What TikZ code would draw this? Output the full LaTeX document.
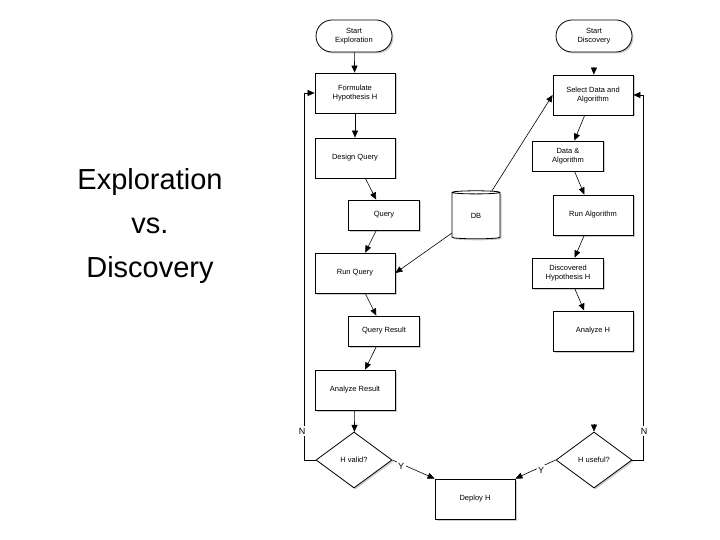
\documentclass[tikz,border=0pt]{standalone}
\usepackage{fontspec}
\setmainfont{Liberation Sans}
\usetikzlibrary{shapes.geometric,shapes.misc,shadows,arrows.meta}
\begin{document}
\begin{tikzpicture}[x=1pt,y=-1pt,
  base/.style={draw,thick,fill=white,align=center,font=\fontsize{7.5}{8.5}\selectfont,inner sep=1pt,
    drop shadow={shadow xshift=1.5pt,shadow yshift=-1.5pt,fill=black!40}},
  box/.style={base,rectangle,minimum width=80pt,minimum height=40pt},
  sbox/.style={base,rectangle,minimum width=71pt,minimum height=30pt},
  term/.style={base,rounded rectangle,minimum width=78pt,minimum height=32pt},
  dia/.style={base,diamond,aspect=1.35,minimum width=76pt,minimum height=56pt,inner sep=0pt},
  arr/.style={-{Triangle[length=7pt,width=6pt]},semithick},
  lab/.style={font=\fontsize{9}{10}\selectfont,fill=white,inner sep=1.5pt}]
\useasboundingbox (0,0) rectangle (720,540);
\node[font=\fontsize{29}{44}\selectfont,align=center] (title) at (150,226) {Exploration\\vs.\\Discovery};
\node[term] (se) at (354,36) {Start\\Exploration};
\node[box] (fh) at (355,93) {Formulate\\Hypothesis H};
\node[box] (dq) at (355,158) {Design Query};
\node[sbox] (q) at (384,215) {Query};
\node[box] (rq) at (355,273) {Run Query};
\node[sbox] (qr) at (384,331) {Query Result};
\node[box] (ar) at (355,390) {Analyze Result};
\node[dia] (hv) at (354,460) {H valid?};
\node[box] (dep) at (475,499) {Deploy H};
\node[term] (sd) at (594,36) {Start\\Discovery};
\node[box] (sel) at (593,95) {Select Data and\\Algorithm};
\node[sbox] (da) at (568,156) {Data \&\\Algorithm};
\node[box] (ra) at (593,215) {Run Algorithm};
\node[sbox] (dh) at (568,273) {Discovered\\Hypothesis H};
\node[box] (ah) at (593,331) {Analyze H};
\node[dia] (hu) at (594,460) {H useful?};
\node[base,cylinder,shape border rotate=90,aspect=0.25,minimum width=48pt,minimum height=48pt] (db) at (476,216) {DB};
\coordinate (c1) at (594,67);
\coordinate (c2) at (594,424);
\draw[arr] (se) -- (fh);
\draw[arr] (fh) -- (dq);
\draw[arr] (dq) -- (q);
\draw[arr] (q) -- (rq);
\draw[arr] (rq) -- (qr);
\draw[arr] (qr) -- (ar);
\draw[arr] (ar) -- (hv);
\draw[arr] (hv.east) -- (dep.north west);
\draw[arr] (hu.west) -- (dep.north east);
\draw[arr] (db) -- (rq.east);
\draw[arr] (db) -- (sel.west);
\draw[arr] (c1) -- (sel);
\draw[arr] (sel) -- (da);
\draw[arr] (da) -- (ra);
\draw[arr] (ra) -- (dh);
\draw[arr] (dh) -- (ah);
\draw[arr] (c2) -- (hu);
\draw[arr] (hv.west) -- ++(-11,0) |- (fh.west);
\draw[arr] (hu.east) -- ++(11,0) |- (sel.east);
\node[lab] (n1) at (302,431) {N};
\node[lab] (n2) at (644,431) {N};
\node[lab] (y1) at (401,466) {Y};
\node[lab] (y2) at (541,470) {Y};
\end{tikzpicture}
\end{document}
